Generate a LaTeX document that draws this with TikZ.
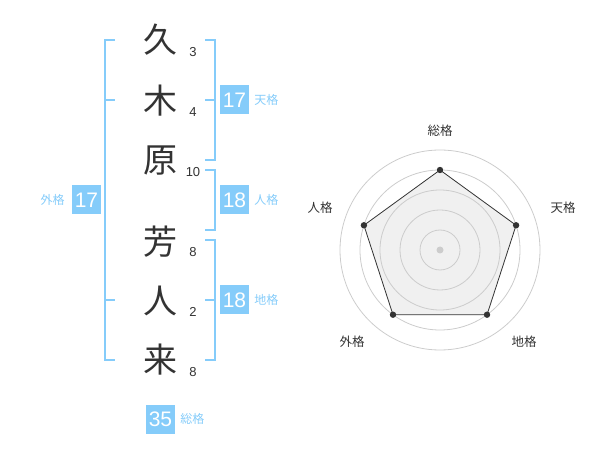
\documentclass[tikz,border=0pt]{standalone}
\usepackage{fontspec}
\setmainfont{Liberation Sans}
\newfontfamily\jpfont{Noto Sans CJK JP}
\usetikzlibrary{positioning}
\usetikzlibrary{calc}
\definecolor{seimei}{HTML}{85CCFA}
\definecolor{ink}{HTML}{333333}
\definecolor{ring}{HTML}{CCCCCC}
\definecolor{area}{HTML}{F0F0F0}
\tikzset{
  kanji/.style={text=ink, font=\jpfont\fontsize{34}{34}\selectfont, inner sep=0pt},
  kaku/.style={text=ink, font=\fontsize{13}{13}\selectfont, inner sep=0pt},
  scorebox/.style={fill=seimei, text=white, font=\fontsize{21}{21}\selectfont, minimum size=29pt, inner sep=0pt},
  scorelabel/.style={text=seimei, font=\jpfont\fontsize{12}{12}\selectfont, inner sep=0pt},
  bracket/.style={draw=seimei, line width=2pt},
  axislabel/.style={text=ink, font=\jpfont\fontsize{12.5}{12.5}\selectfont, inner sep=0pt},
}
\begin{document}
\begin{tikzpicture}[x=1pt, y=-1pt]
        \useasboundingbox (0,0) rectangle (600,470);

        % Name characters, one per line
        \node[kanji] (kyu) at (160,40) {久};
        \node[kanji] (ki) at (160,101) {木};
        \node[kanji] (hara) at (160,161) {原};
        \node[kanji] (yoshi) at (160,242) {芳};
        \node[kanji] (hito) at (160,301) {人};
        \node[kanji] (rai) at (160,360) {来};

        % Stroke counts beside each character
        \node[kaku] (n1) at (193,52) {3};
        \node[kaku] (n2) at (193,112) {4};
        \node[kaku] (n3) at (193,172) {10};
        \node[kaku] (n4) at (193,252) {8};
        \node[kaku] (n5) at (193,312) {2};
        \node[kaku] (n6) at (193,372) {8};

        % Outer bracket on the left
        \draw[bracket] (115,40) -- (105,40) -- (105,360) -- (115,360);
        \draw[bracket] (105,100) -- (115,100);
        \draw[bracket] (105,300) -- (115,300);

        % Brackets on the right
        \draw[bracket] (205,40) -- (215,40) -- (215,160) -- (205,160);
        \draw[bracket] (205,100) -- (215,100);
        \draw[bracket] (205,170) -- (215,170) -- (215,230) -- (205,230);
        \draw[bracket] (205,240) -- (215,240) -- (215,360) -- (205,360);
        \draw[bracket] (205,300) -- (215,300);

        % Scores
        \node[scorebox] (ten) at (234.5,100) {17};
        \node[scorelabel, right=5pt of ten] (tenl) {天格};
        \node[scorebox] (jin) at (234.5,200) {18};
        \node[scorelabel, right=5pt of jin] (jinl) {人格};
        \node[scorebox] (chi) at (234.5,300) {18};
        \node[scorelabel, right=5pt of chi] (chil) {地格};
        \node[scorebox] (gai) at (86.5,200) {17};
        \node[scorelabel, left=7pt of gai] (gail) {外格};
        \node[scorebox] (sou) at (160.5,419) {35};
        \node[scorelabel, right=5pt of sou] (soul) {総格};

        % Radar polygon area
        \fill[area]
          (440,250) ++(-90:80) coordinate (ps)
          -- ($(440,250)+(-18:80)$) coordinate (pt)
          -- ($(440,250)+(54:80)$) coordinate (pc)
          -- ($(440,250)+(126:80)$) coordinate (pg)
          -- ($(440,250)+(198:80)$) coordinate (pj) -- cycle;

        % Radar chart rings
        \foreach \r in {20,40,60,80,100}
          \draw[ring, line width=0.8pt] (440,250) circle (\r);
        \fill[ring] (440,250) circle (3.5);

        % Radar polygon outline and points
        \draw[ink, line width=0.8pt] (ps) -- (pt) -- (pc) -- (pg) -- (pj) -- cycle;
        \foreach \p in {ps,pt,pc,pg,pj}
          \fill[ink] (\p) circle (3.2);

        % Axis labels
        \node[axislabel] (ax1) at (440,131) {総格};
        \node[axislabel] (ax2) at (563,208) {天格};
        \node[axislabel] (ax3) at (524,342) {地格};
        \node[axislabel] (ax4) at (352,342) {外格};
        \node[axislabel] (ax5) at (320,208) {人格};
\end{tikzpicture}
\end{document}
